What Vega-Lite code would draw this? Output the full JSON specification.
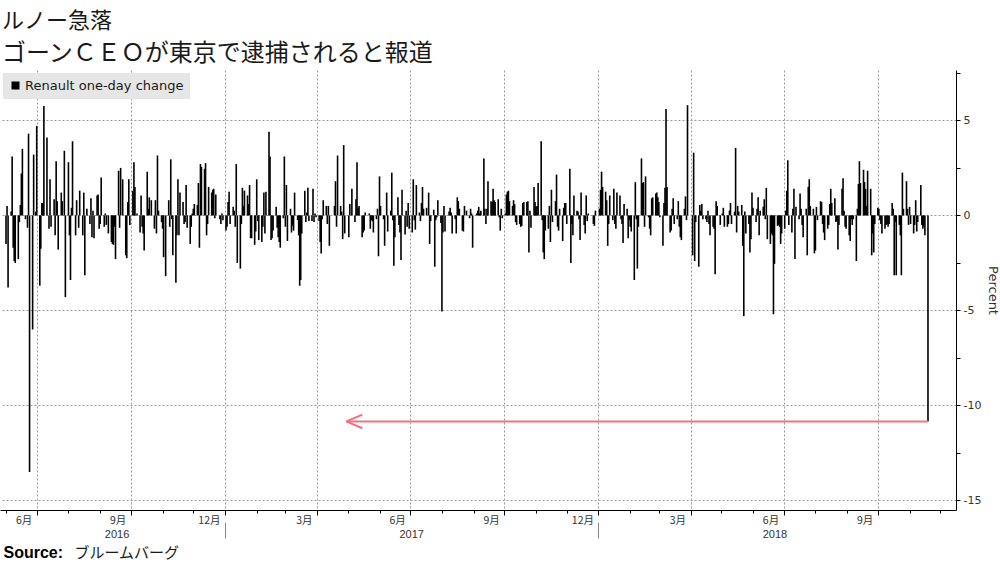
{
"$schema":"https://vega.github.io/schema/vega-lite/v6.json",
"autosize":{"type":"none"},
"padding":{"left":0,"top":70,"right":44,"bottom":52},
"width":956,"height":440,
"background":"#ffffff",
"config":{"view":{"stroke":null}},
"title":{"text":"ルノー急落","subtitle":"ゴーンＣＥＯが東京で逮捕されると報道","anchor":"start","frame":"group","offset":3,"dx":2,"font":"Noto Sans CJK JP","fontSize":22,"fontWeight":"normal","color":"#1a1a1a","subtitleFont":"Noto Sans CJK JP","subtitleFontSize":24,"subtitleColor":"#1a1a1a","subtitlePadding":9,"lineHeight":24,"subtitleLineHeight":26},
"resolve":{"axis":{"x":"independent","y":"independent"}},
"layer":[
{"data":{"values":[
{"d":"2016-06-01","v":-1.5},{"d":"2016-06-02","v":0.5},{"d":"2016-06-03","v":-3.8},{"d":"2016-06-06","v":0.2},{"d":"2016-06-07","v":3.1},{"d":"2016-06-08","v":-1.7},{"d":"2016-06-09","v":-2.4},{"d":"2016-06-10","v":-2.5},{"d":"2016-06-13","v":-2.3},{"d":"2016-06-14","v":-0.35},{"d":"2016-06-15","v":0.55},{"d":"2016-06-16","v":2.2},{"d":"2016-06-17","v":3.5},{"d":"2016-06-20","v":-0.2},{"d":"2016-06-22","v":-0.65},{"d":"2016-06-23","v":4.3},{"d":"2016-06-24","v":-13.5},{"d":"2016-06-27","v":-6.0},{"d":"2016-06-28","v":3.2},{"d":"2016-06-30","v":0.2},{"d":"2016-07-01","v":4.7},{"d":"2016-07-04","v":-3.7},{"d":"2016-07-05","v":-1.75},{"d":"2016-07-06","v":0.65},{"d":"2016-07-07","v":0.65},{"d":"2016-07-08","v":5.75},{"d":"2016-07-11","v":4.1},{"d":"2016-07-13","v":-0.7},{"d":"2016-07-14","v":1.9},{"d":"2016-07-15","v":-0.6},{"d":"2016-07-18","v":0.85},{"d":"2016-07-19","v":-1.05},{"d":"2016-07-20","v":2.85},{"d":"2016-07-21","v":0.75},{"d":"2016-07-22","v":-1.8},{"d":"2016-07-25","v":1.2},{"d":"2016-07-26","v":0.75},{"d":"2016-07-28","v":3.4},{"d":"2016-07-29","v":-4.3},{"d":"2016-08-01","v":2.8},{"d":"2016-08-02","v":-1.05},{"d":"2016-08-03","v":-3.4},{"d":"2016-08-04","v":0.4},{"d":"2016-08-05","v":3.9},{"d":"2016-08-08","v":-1.05},{"d":"2016-08-09","v":0.8},{"d":"2016-08-11","v":-0.65},{"d":"2016-08-12","v":1.3},{"d":"2016-08-15","v":-1.05},{"d":"2016-08-16","v":1.2},{"d":"2016-08-17","v":-3.15},{"d":"2016-08-19","v":0.35},{"d":"2016-08-22","v":-0.45},{"d":"2016-08-23","v":0.9},{"d":"2016-08-24","v":-1.15},{"d":"2016-08-25","v":0.25},
{"d":"2016-08-26","v":-1.2},{"d":"2016-08-29","v":1.05},{"d":"2016-08-30","v":1.1},{"d":"2016-08-31","v":-0.7},{"d":"2016-09-01","v":-0.45},{"d":"2016-09-02","v":2.0},{"d":"2016-09-05","v":-0.6},{"d":"2016-09-06","v":0.1},{"d":"2016-09-07","v":-0.5},{"d":"2016-09-09","v":-0.95},{"d":"2016-09-12","v":-1.4},{"d":"2016-09-13","v":-1.5},{"d":"2016-09-14","v":-1.55},{"d":"2016-09-15","v":-0.6},{"d":"2016-09-16","v":-2.3},{"d":"2016-09-19","v":2.35},{"d":"2016-09-20","v":-0.65},{"d":"2016-09-21","v":2.5},{"d":"2016-09-23","v":1.9},{"d":"2016-09-26","v":-2.1},{"d":"2016-09-27","v":-2.25},{"d":"2016-09-28","v":0.7},{"d":"2016-09-29","v":1.9},{"d":"2016-09-30","v":-0.5},{"d":"2016-10-03","v":1.3},{"d":"2016-10-04","v":2.8},{"d":"2016-10-05","v":1.5},{"d":"2016-10-07","v":0.1},{"d":"2016-10-10","v":-0.9},{"d":"2016-10-11","v":1.05},{"d":"2016-10-12","v":-0.6},{"d":"2016-10-13","v":-0.95},{"d":"2016-10-14","v":-1.85},{"d":"2016-10-17","v":2.3},{"d":"2016-10-18","v":0.35},{"d":"2016-10-19","v":0.95},{"d":"2016-10-21","v":0.8},{"d":"2016-10-24","v":-0.7},{"d":"2016-10-25","v":0.8},{"d":"2016-10-26","v":-0.95},{"d":"2016-10-27","v":3.15},{"d":"2016-10-28","v":0.25},{"d":"2016-10-31","v":-0.35},{"d":"2016-11-01","v":-0.7},{"d":"2016-11-02","v":-2.2},{"d":"2016-11-04","v":-3.2},{"d":"2016-11-07","v":0.8},{"d":"2016-11-08","v":-0.6},{"d":"2016-11-09","v":2.95},{"d":"2016-11-10","v":-0.2},{"d":"2016-11-11","v":-2.1},{"d":"2016-11-14","v":-3.55},{"d":"2016-11-15","v":-1.05},
{"d":"2016-11-16","v":1.9},{"d":"2016-11-17","v":-1.05},{"d":"2016-11-18","v":1.2},{"d":"2016-11-21","v":0.7},{"d":"2016-11-22","v":-0.45},{"d":"2016-11-23","v":-0.35},{"d":"2016-11-24","v":1.6},{"d":"2016-11-25","v":-0.65},{"d":"2016-11-28","v":-1.5},{"d":"2016-11-29","v":-0.6},{"d":"2016-11-30","v":0.1},{"d":"2016-12-01","v":0.35},{"d":"2016-12-02","v":0.6},{"d":"2016-12-05","v":0.55},{"d":"2016-12-06","v":1.7},{"d":"2016-12-07","v":-1.7},{"d":"2016-12-08","v":2.7},{"d":"2016-12-09","v":2.55},{"d":"2016-12-12","v":2.45},{"d":"2016-12-13","v":2.75},{"d":"2016-12-14","v":-1.05},{"d":"2016-12-15","v":-0.45},{"d":"2016-12-16","v":1.5},{"d":"2016-12-19","v":1.2},{"d":"2016-12-20","v":1.35},{"d":"2016-12-21","v":1.4},{"d":"2016-12-22","v":-0.15},{"d":"2016-12-23","v":1.1},{"d":"2016-12-27","v":-0.2},{"d":"2016-12-28","v":-0.45},{"d":"2016-12-29","v":0.1},{"d":"2016-12-30","v":-0.25},{"d":"2017-01-02","v":-0.8},{"d":"2017-01-03","v":-0.6},{"d":"2017-01-04","v":0.7},{"d":"2017-01-05","v":1.25},{"d":"2017-01-06","v":-0.45},{"d":"2017-01-09","v":0.45},{"d":"2017-01-10","v":0.25},{"d":"2017-01-11","v":-0.6},{"d":"2017-01-12","v":2.7},{"d":"2017-01-13","v":-2.5},{"d":"2017-01-16","v":-2.8},{"d":"2017-01-17","v":-0.45},{"d":"2017-01-18","v":1.45},{"d":"2017-01-19","v":0.5},{"d":"2017-01-20","v":1.3},{"d":"2017-01-23","v":1.05},{"d":"2017-01-24","v":0.6},{"d":"2017-01-25","v":1.6},{"d":"2017-01-26","v":-1.2},{"d":"2017-01-27","v":-1.2},{"d":"2017-01-30","v":-1.55},{"d":"2017-01-31","v":-0.85},{"d":"2017-02-01","v":1.9},
{"d":"2017-02-02","v":-0.3},{"d":"2017-02-03","v":-1.3},{"d":"2017-02-06","v":-1.4},{"d":"2017-02-07","v":-0.6},{"d":"2017-02-08","v":1.2},{"d":"2017-02-09","v":-0.95},{"d":"2017-02-10","v":1.25},{"d":"2017-02-13","v":4.4},{"d":"2017-02-14","v":3.1},{"d":"2017-02-15","v":-1.3},{"d":"2017-02-16","v":-1.2},{"d":"2017-02-17","v":-0.8},{"d":"2017-02-20","v":0.45},{"d":"2017-02-21","v":-0.65},{"d":"2017-02-22","v":-1.15},{"d":"2017-02-23","v":-1.4},{"d":"2017-02-24","v":-1.7},{"d":"2017-02-27","v":-0.15},{"d":"2017-02-28","v":3.1},{"d":"2017-03-01","v":-0.6},{"d":"2017-03-02","v":1.6},{"d":"2017-03-03","v":-1.35},{"d":"2017-03-06","v":0.35},{"d":"2017-03-07","v":-0.9},{"d":"2017-03-08","v":-0.55},{"d":"2017-03-09","v":-0.8},{"d":"2017-03-10","v":1.2},{"d":"2017-03-13","v":-0.25},{"d":"2017-03-14","v":-1.05},{"d":"2017-03-15","v":-3.7},{"d":"2017-03-16","v":-3.4},{"d":"2017-03-17","v":-0.95},{"d":"2017-03-20","v":1.3},{"d":"2017-03-21","v":-0.35},{"d":"2017-03-22","v":0.15},{"d":"2017-03-23","v":1.45},{"d":"2017-03-24","v":-0.3},{"d":"2017-03-27","v":-0.3},{"d":"2017-03-28","v":1.4},{"d":"2017-03-29","v":-0.35},{"d":"2017-03-30","v":0.1},{"d":"2017-03-31","v":-0.1},{"d":"2017-04-03","v":-0.3},{"d":"2017-04-04","v":-1.4},{"d":"2017-04-05","v":-2.0},{"d":"2017-04-06","v":-0.2},{"d":"2017-04-07","v":0.8},{"d":"2017-04-10","v":0.5},{"d":"2017-04-11","v":-0.45},{"d":"2017-04-12","v":0.5},{"d":"2017-04-13","v":-1.6},{"d":"2017-04-18","v":0.5},{"d":"2017-04-19","v":1.8},{"d":"2017-04-20","v":-0.6},{"d":"2017-04-21","v":3.15},{"d":"2017-04-24","v":0.5},{"d":"2017-04-25","v":0.2},{"d":"2017-04-26","v":-1.25},
{"d":"2017-04-27","v":3.7},{"d":"2017-04-28","v":-0.95},{"d":"2017-05-02","v":-1.15},{"d":"2017-05-03","v":0.6},{"d":"2017-05-05","v":1.4},{"d":"2017-05-08","v":-0.35},{"d":"2017-05-09","v":0.85},{"d":"2017-05-10","v":2.8},{"d":"2017-05-11","v":0.4},{"d":"2017-05-12","v":0.5},{"d":"2017-05-15","v":-1.15},{"d":"2017-05-16","v":-0.9},{"d":"2017-05-17","v":-0.8},{"d":"2017-05-18","v":0.15},{"d":"2017-05-22","v":0.1},{"d":"2017-05-23","v":-0.7},{"d":"2017-05-24","v":-0.25},{"d":"2017-05-25","v":-0.3},{"d":"2017-05-26","v":-0.9},{"d":"2017-05-29","v":-0.2},{"d":"2017-05-30","v":0.35},{"d":"2017-05-31","v":-2.15},{"d":"2017-06-01","v":2.05},{"d":"2017-06-02","v":0.5},{"d":"2017-06-05","v":-0.2},{"d":"2017-06-06","v":-1.6},{"d":"2017-06-08","v":1.2},{"d":"2017-06-09","v":-0.85},{"d":"2017-06-12","v":0.25},{"d":"2017-06-13","v":2.25},{"d":"2017-06-14","v":-0.25},{"d":"2017-06-15","v":-2.65},{"d":"2017-06-16","v":-1.15},{"d":"2017-06-19","v":0.95},{"d":"2017-06-20","v":-0.5},{"d":"2017-06-21","v":-0.9},{"d":"2017-06-22","v":-2.35},{"d":"2017-06-23","v":1.35},{"d":"2017-06-26","v":-1.0},{"d":"2017-06-27","v":0.25},{"d":"2017-06-28","v":-0.6},{"d":"2017-06-29","v":0.65},{"d":"2017-06-30","v":-0.7},{"d":"2017-07-03","v":-0.9},{"d":"2017-07-04","v":1.9},{"d":"2017-07-05","v":-0.25},{"d":"2017-07-06","v":-0.75},{"d":"2017-07-07","v":1.6},{"d":"2017-07-10","v":0.15},{"d":"2017-07-11","v":-0.3},{"d":"2017-07-12","v":0.65},{"d":"2017-07-13","v":1.5},{"d":"2017-07-14","v":0.35},{"d":"2017-07-17","v":0.4},{"d":"2017-07-19","v":1.2},{"d":"2017-07-20","v":-1.5},
{"d":"2017-07-21","v":-0.3},{"d":"2017-07-24","v":0.3},{"d":"2017-07-25","v":-2.7},{"d":"2017-07-26","v":-0.25},{"d":"2017-07-27","v":-0.1},{"d":"2017-07-28","v":0.8},{"d":"2017-07-31","v":-0.4},{"d":"2017-08-01","v":-5.05},{"d":"2017-08-02","v":-0.9},{"d":"2017-08-03","v":0.5},{"d":"2017-08-04","v":-0.85},{"d":"2017-08-08","v":0.2},{"d":"2017-08-09","v":0.4},{"d":"2017-08-10","v":0.15},{"d":"2017-08-11","v":-0.95},{"d":"2017-08-14","v":-0.2},{"d":"2017-08-15","v":-0.95},{"d":"2017-08-16","v":0.95},{"d":"2017-08-17","v":0.75},{"d":"2017-08-18","v":0.35},{"d":"2017-08-21","v":-0.8},{"d":"2017-08-22","v":-0.85},{"d":"2017-08-23","v":0.5},{"d":"2017-08-25","v":0.25},{"d":"2017-08-28","v":-0.15},{"d":"2017-08-29","v":0.35},{"d":"2017-08-30","v":0.1},{"d":"2017-08-31","v":-1.7},{"d":"2017-09-04","v":0.1},{"d":"2017-09-05","v":0.25},{"d":"2017-09-06","v":0.45},{"d":"2017-09-07","v":0.1},{"d":"2017-09-08","v":0.25},{"d":"2017-09-11","v":3.0},{"d":"2017-09-12","v":0.35},{"d":"2017-09-13","v":-0.45},{"d":"2017-09-14","v":0.35},{"d":"2017-09-15","v":1.8},{"d":"2017-09-18","v":0.75},{"d":"2017-09-19","v":0.7},{"d":"2017-09-20","v":1.4},{"d":"2017-09-21","v":0.8},{"d":"2017-09-22","v":0.7},{"d":"2017-09-25","v":0.85},{"d":"2017-09-26","v":-0.1},{"d":"2017-09-27","v":-0.8},{"d":"2017-09-28","v":0.35},{"d":"2017-09-29","v":-0.15},{"d":"2017-10-02","v":0.1},{"d":"2017-10-03","v":1.1},{"d":"2017-10-04","v":1.25},{"d":"2017-10-05","v":1.3},{"d":"2017-10-06","v":0.75},{"d":"2017-10-09","v":0.5},{"d":"2017-10-10","v":0.8},{"d":"2017-10-11","v":0.6},
{"d":"2017-10-12","v":-0.35},{"d":"2017-10-13","v":-0.5},{"d":"2017-10-16","v":-0.45},{"d":"2017-10-17","v":-0.6},{"d":"2017-10-18","v":-0.55},{"d":"2017-10-19","v":0.65},{"d":"2017-10-20","v":0.7},{"d":"2017-10-23","v":0.7},{"d":"2017-10-24","v":0.75},{"d":"2017-10-25","v":-1.95},{"d":"2017-10-26","v":0.25},{"d":"2017-10-27","v":-0.65},{"d":"2017-10-30","v":1.5},{"d":"2017-10-31","v":0.7},{"d":"2017-11-01","v":0.45},{"d":"2017-11-02","v":0.5},{"d":"2017-11-03","v":1.7},{"d":"2017-11-06","v":3.9},{"d":"2017-11-07","v":-0.25},{"d":"2017-11-08","v":-1.95},{"d":"2017-11-09","v":-2.3},{"d":"2017-11-10","v":-0.8},{"d":"2017-11-13","v":-0.7},{"d":"2017-11-14","v":0.5},{"d":"2017-11-15","v":-1.4},{"d":"2017-11-16","v":1.35},{"d":"2017-11-17","v":-0.35},{"d":"2017-11-20","v":0.75},{"d":"2017-11-21","v":2.15},{"d":"2017-11-22","v":-0.6},{"d":"2017-11-23","v":-0.8},{"d":"2017-11-24","v":0.35},{"d":"2017-11-27","v":-1.35},{"d":"2017-11-28","v":0.4},{"d":"2017-11-29","v":0.65},{"d":"2017-11-30","v":0.65},{"d":"2017-12-01","v":-0.45},{"d":"2017-12-04","v":2.45},{"d":"2017-12-05","v":-2.5},{"d":"2017-12-06","v":-0.45},{"d":"2017-12-07","v":-1.05},{"d":"2017-12-08","v":1.05},{"d":"2017-12-11","v":0.25},{"d":"2017-12-12","v":0.2},{"d":"2017-12-13","v":-0.2},{"d":"2017-12-14","v":-1.3},{"d":"2017-12-15","v":1.2},{"d":"2017-12-18","v":-0.5},{"d":"2017-12-19","v":-0.95},{"d":"2017-12-20","v":1.05},{"d":"2017-12-21","v":-0.3},{"d":"2017-12-22","v":0.1},{"d":"2017-12-27","v":-0.45},{"d":"2017-12-28","v":-0.55},{"d":"2017-12-29","v":0.25},
{"d":"2018-01-02","v":0.35},{"d":"2018-01-03","v":1.35},{"d":"2018-01-04","v":2.3},{"d":"2018-01-05","v":1.5},{"d":"2018-01-08","v":1.25},{"d":"2018-01-09","v":0.8},{"d":"2018-01-10","v":-1.6},{"d":"2018-01-11","v":-0.45},{"d":"2018-01-12","v":1.05},{"d":"2018-01-15","v":-0.25},{"d":"2018-01-16","v":1.4},{"d":"2018-01-17","v":-0.45},{"d":"2018-01-18","v":-0.7},{"d":"2018-01-19","v":1.2},{"d":"2018-01-22","v":1.05},{"d":"2018-01-23","v":-0.2},{"d":"2018-01-24","v":-0.45},{"d":"2018-01-25","v":-1.45},{"d":"2018-01-26","v":0.6},{"d":"2018-01-29","v":0.35},{"d":"2018-01-30","v":-1.2},{"d":"2018-01-31","v":-0.25},{"d":"2018-02-01","v":-0.6},{"d":"2018-02-02","v":-0.85},{"d":"2018-02-05","v":-3.4},{"d":"2018-02-06","v":1.75},{"d":"2018-02-07","v":-0.2},{"d":"2018-02-08","v":-2.8},{"d":"2018-02-09","v":-0.6},{"d":"2018-02-12","v":3.0},{"d":"2018-02-13","v":1.7},{"d":"2018-02-14","v":1.75},{"d":"2018-02-15","v":-0.6},{"d":"2018-02-16","v":2.05},{"d":"2018-02-19","v":-0.1},{"d":"2018-02-20","v":-0.7},{"d":"2018-02-21","v":-1.05},{"d":"2018-02-22","v":0.9},{"d":"2018-02-23","v":0.95},{"d":"2018-02-26","v":1.15},{"d":"2018-02-27","v":1.2},{"d":"2018-02-28","v":0.95},{"d":"2018-03-01","v":0.7},{"d":"2018-03-02","v":-0.1},{"d":"2018-03-05","v":-1.6},{"d":"2018-03-06","v":0.65},{"d":"2018-03-07","v":1.45},{"d":"2018-03-08","v":5.6},{"d":"2018-03-09","v":1.5},{"d":"2018-03-12","v":-0.9},{"d":"2018-03-13","v":-0.8},{"d":"2018-03-14","v":0.35},{"d":"2018-03-15","v":0.9},{"d":"2018-03-16","v":-0.45},{"d":"2018-03-19","v":-0.2},{"d":"2018-03-20","v":0.75},{"d":"2018-03-21","v":-0.6},{"d":"2018-03-22","v":-1.15},{"d":"2018-03-23","v":-1.3},
{"d":"2018-03-26","v":0.35},{"d":"2018-03-27","v":1.0},{"d":"2018-03-28","v":-0.25},{"d":"2018-03-29","v":5.8},{"d":"2018-04-03","v":-2.1},{"d":"2018-04-04","v":3.3},{"d":"2018-04-05","v":-2.4},{"d":"2018-04-06","v":-0.35},{"d":"2018-04-09","v":-2.7},{"d":"2018-04-10","v":0.55},{"d":"2018-04-11","v":0.25},{"d":"2018-04-12","v":0.6},{"d":"2018-04-13","v":-0.2},{"d":"2018-04-16","v":-0.2},{"d":"2018-04-17","v":-0.35},{"d":"2018-04-18","v":0.25},{"d":"2018-04-19","v":-0.45},{"d":"2018-04-20","v":-1.05},{"d":"2018-04-23","v":-0.6},{"d":"2018-04-24","v":-0.7},{"d":"2018-04-25","v":-3.1},{"d":"2018-04-26","v":0.75},{"d":"2018-04-27","v":0.5},{"d":"2018-04-30","v":-0.5},{"d":"2018-05-02","v":0.1},{"d":"2018-05-03","v":0.4},{"d":"2018-05-04","v":-0.6},{"d":"2018-05-07","v":-0.6},{"d":"2018-05-08","v":-0.45},{"d":"2018-05-09","v":0.25},{"d":"2018-05-10","v":0.65},{"d":"2018-05-11","v":-0.45},{"d":"2018-05-14","v":0.2},{"d":"2018-05-15","v":3.55},{"d":"2018-05-16","v":-0.9},{"d":"2018-05-17","v":0.5},{"d":"2018-05-18","v":0.2},{"d":"2018-05-21","v":0.55},{"d":"2018-05-22","v":-1.6},{"d":"2018-05-23","v":-5.3},{"d":"2018-05-24","v":0.2},{"d":"2018-05-25","v":-0.95},{"d":"2018-05-28","v":-0.45},{"d":"2018-05-29","v":-1.95},{"d":"2018-05-30","v":-1.25},{"d":"2018-05-31","v":1.2},{"d":"2018-06-01","v":0.4},{"d":"2018-06-04","v":-0.35},{"d":"2018-06-05","v":0.35},{"d":"2018-06-06","v":0.95},{"d":"2018-06-07","v":-1.05},{"d":"2018-06-08","v":0.25},{"d":"2018-06-11","v":0.45},{"d":"2018-06-12","v":0.85},{"d":"2018-06-13","v":-0.2},{"d":"2018-06-14","v":1.45},
{"d":"2018-06-15","v":-1.25},{"d":"2018-06-18","v":-1.5},{"d":"2018-06-19","v":-0.95},{"d":"2018-06-20","v":-1.05},{"d":"2018-06-21","v":-5.2},{"d":"2018-06-22","v":-2.55},{"d":"2018-06-25","v":-0.55},{"d":"2018-06-26","v":-0.5},{"d":"2018-06-27","v":-0.6},{"d":"2018-06-28","v":-1.5},{"d":"2018-06-29","v":-0.95},{"d":"2018-07-02","v":-0.7},{"d":"2018-07-03","v":0.25},{"d":"2018-07-04","v":1.3},{"d":"2018-07-05","v":2.9},{"d":"2018-07-06","v":-0.5},{"d":"2018-07-09","v":-0.9},{"d":"2018-07-10","v":0.35},{"d":"2018-07-11","v":1.4},{"d":"2018-07-12","v":-2.3},{"d":"2018-07-13","v":0.45},{"d":"2018-07-16","v":-0.2},{"d":"2018-07-17","v":1.15},{"d":"2018-07-18","v":0.35},{"d":"2018-07-19","v":-0.5},{"d":"2018-07-20","v":-1.15},{"d":"2018-07-23","v":0.35},{"d":"2018-07-24","v":-2.1},{"d":"2018-07-25","v":1.5},{"d":"2018-07-26","v":1.9},{"d":"2018-07-27","v":0.5},{"d":"2018-07-30","v":0.35},{"d":"2018-07-31","v":-2.0},{"d":"2018-08-01","v":-1.85},{"d":"2018-08-02","v":0.45},{"d":"2018-08-03","v":-0.25},{"d":"2018-08-06","v":0.75},{"d":"2018-08-07","v":0.7},{"d":"2018-08-08","v":-0.45},{"d":"2018-08-09","v":-0.9},{"d":"2018-08-10","v":-1.3},{"d":"2018-08-13","v":-0.7},{"d":"2018-08-14","v":-0.5},{"d":"2018-08-15","v":0.6},{"d":"2018-08-16","v":1.4},{"d":"2018-08-17","v":0.65},{"d":"2018-08-20","v":0.9},{"d":"2018-08-21","v":-0.35},{"d":"2018-08-22","v":-0.3},{"d":"2018-08-23","v":-1.8},{"d":"2018-08-24","v":-0.5},{"d":"2018-08-27","v":1.4},{"d":"2018-08-28","v":1.95},{"d":"2018-08-29","v":0.25},{"d":"2018-08-30","v":-0.6},{"d":"2018-08-31","v":-0.7},{"d":"2018-09-03","v":-1.05},{"d":"2018-09-04","v":-1.35},
{"d":"2018-09-05","v":-0.2},{"d":"2018-09-06","v":-0.5},{"d":"2018-09-07","v":-0.2},{"d":"2018-09-10","v":-2.4},{"d":"2018-09-11","v":0.35},{"d":"2018-09-12","v":1.65},{"d":"2018-09-13","v":2.85},{"d":"2018-09-14","v":1.7},{"d":"2018-09-17","v":2.4},{"d":"2018-09-18","v":1.75},{"d":"2018-09-19","v":1.4},{"d":"2018-09-20","v":0.5},{"d":"2018-09-21","v":2.35},{"d":"2018-09-24","v":1.4},{"d":"2018-09-25","v":-2.1},{"d":"2018-09-26","v":-0.95},{"d":"2018-09-27","v":-1.95},{"d":"2018-09-28","v":-0.45},{"d":"2018-10-01","v":0.4},{"d":"2018-10-02","v":0.35},{"d":"2018-10-03","v":-0.25},{"d":"2018-10-04","v":-0.45},{"d":"2018-10-05","v":-0.95},{"d":"2018-10-08","v":-0.7},{"d":"2018-10-09","v":-0.5},{"d":"2018-10-10","v":-0.45},{"d":"2018-10-11","v":-0.6},{"d":"2018-10-12","v":-0.45},{"d":"2018-10-15","v":0.65},{"d":"2018-10-16","v":0.35},{"d":"2018-10-17","v":-3.15},{"d":"2018-10-18","v":-0.35},{"d":"2018-10-19","v":-3.15},{"d":"2018-10-22","v":-0.5},{"d":"2018-10-23","v":-1.05},{"d":"2018-10-24","v":-3.15},{"d":"2018-10-25","v":2.25},{"d":"2018-10-26","v":0.35},{"d":"2018-10-29","v":1.8},{"d":"2018-10-30","v":0.35},{"d":"2018-10-31","v":-0.5},{"d":"2018-11-01","v":0.45},{"d":"2018-11-02","v":-0.45},{"d":"2018-11-05","v":-0.95},{"d":"2018-11-06","v":-0.5},{"d":"2018-11-07","v":0.8},{"d":"2018-11-08","v":-0.85},{"d":"2018-11-09","v":-0.35},{"d":"2018-11-12","v":1.6},{"d":"2018-11-13","v":-0.5},{"d":"2018-11-14","v":-0.7},{"d":"2018-11-15","v":-0.6},{"d":"2018-11-16","v":-1.05},{"d":"2018-11-19","v":-10.84}
]},
"mark":{"type":"bar","size":1.6},
"encoding":{
"x":{"field":"d","type":"temporal","scale":{"type":"utc","domain":[{"year":2016,"month":5,"date":31,"utc":true},{"year":2018,"month":12,"date":11,"hours":12,"utc":true}]},
"axis":{"title":null,"orient":"bottom","values":[{"year":2016,"month":6,"date":1,"utc":true},{"year":2016,"month":7,"date":1,"utc":true},{"year":2016,"month":8,"date":1,"utc":true},{"year":2016,"month":9,"date":1,"utc":true},{"year":2016,"month":10,"date":1,"utc":true},{"year":2016,"month":11,"date":1,"utc":true},{"year":2016,"month":12,"date":1,"utc":true},{"year":2017,"month":1,"date":1,"utc":true},{"year":2017,"month":2,"date":1,"utc":true},{"year":2017,"month":3,"date":1,"utc":true},{"year":2017,"month":4,"date":1,"utc":true},{"year":2017,"month":5,"date":1,"utc":true},{"year":2017,"month":6,"date":1,"utc":true},{"year":2017,"month":7,"date":1,"utc":true},{"year":2017,"month":8,"date":1,"utc":true},{"year":2017,"month":9,"date":1,"utc":true},{"year":2017,"month":10,"date":1,"utc":true},{"year":2017,"month":11,"date":1,"utc":true},{"year":2017,"month":12,"date":1,"utc":true},{"year":2018,"month":1,"date":1,"utc":true},{"year":2018,"month":2,"date":1,"utc":true},{"year":2018,"month":3,"date":1,"utc":true},{"year":2018,"month":4,"date":1,"utc":true},{"year":2018,"month":5,"date":1,"utc":true},{"year":2018,"month":6,"date":1,"utc":true},{"year":2018,"month":7,"date":1,"utc":true},{"year":2018,"month":8,"date":1,"utc":true},{"year":2018,"month":9,"date":1,"utc":true},{"year":2018,"month":10,"date":1,"utc":true},{"year":2018,"month":11,"date":1,"utc":true},{"year":2018,"month":12,"date":1,"utc":true}],
"domain":true,"domainColor":"#000000","domainWidth":1,"ticks":true,"tickColor":"#000000","tickWidth":1,
"tickSize":{"condition":{"test":"utcmonth(datum.value) % 3 == 0","value":5},"value":3},
"grid":true,"gridColor":"#9a9a9a","gridDash":[2,2],"gridWidth":1,
"gridOpacity":{"condition":{"test":"utcmonth(datum.value) % 3 == 0","value":1},"value":0},
"labelExpr":"utcmonth(datum.value) % 3 == 0 ? (utcmonth(datum.value) == 0 ? 12 : utcmonth(datum.value)) + '月' : ''",
"labelAlign":"right","labelOffset":-5,"labelPadding":0,"labelFont":"Noto Sans CJK JP","labelFontSize":10.5,"labelColor":"#333333","labelOverlap":false,"labelFlush":false}},
"y":{"field":"v","type":"quantitative","scale":{"domain":[-15.5,7.65],"nice":false,"zero":false},
"axis":{"orient":"right","values":[-15,-12.5,-10,-7.5,-5,-2.5,0,2.5,5,7.5],
"labelExpr":"datum.value % 5 == 0 ? '' + datum.value : ''",
"grid":true,"gridColor":"#9a9a9a","gridDash":[2,2],"gridWidth":1,
"gridOpacity":{"condition":{"test":"datum.value % 5 == 0","value":1},"value":0},
"domain":true,"domainColor":"#000000","ticks":true,"tickColor":"#000000","tickSize":4,
"labelPadding":3,"labelFont":"DejaVu Sans","labelFontSize":11,"labelColor":"#333333",
"title":"Percent","titleAngle":90,"titleFont":"DejaVu Sans","titleFontWeight":"normal","titleFontSize":13,"titleColor":"#333333","titlePadding":5}},
"y2":{"datum":0},
"color":{"datum":"Renault one-day change","type":"nominal","scale":{"range":["#000000"]},
"legend":{"orient":"top-left","offset":3,"title":null,"fillColor":"#e6e6e6","padding":6,"symbolType":"square","symbolSize":64,"symbolFillColor":"#000000","symbolStrokeWidth":0,"labelFont":"DejaVu Sans","labelFontSize":13,"labelColor":"#1a1a1a","labelOffset":3}}
}},
{"data":{"values":[{"a":"2017-04-29T15:00:00Z","b":"2018-11-19","y":-10.84}]},
"mark":{"type":"rule","color":"#f2727d","strokeWidth":2},
"encoding":{
"x":{"field":"a","type":"temporal","scale":{"type":"utc","domain":[{"year":2016,"month":5,"date":31,"utc":true},{"year":2018,"month":12,"date":11,"hours":12,"utc":true}]},
"axis":{"orient":"bottom","values":[{"year":2016,"month":9,"date":17,"utc":true},{"year":2017,"month":7,"date":2,"utc":true},{"year":2018,"month":6,"date":22,"utc":true}],
"labelExpr":"'' + utcyear(datum.value)","ticks":false,"domain":false,"grid":false,"labelPadding":18,"labelFont":"Liberation Sans","labelFontSize":11,"labelColor":"#333333","labelAlign":"center","labelOverlap":false,
"title":"Source:","titleFont":"Liberation Sans","titleFontWeight":"bold","titleFontSize":16,"titleColor":"#000000","titleX":3,"titleY":47,"titleAlign":"left","titleAnchor":null,"titleBaseline":"alphabetic","titleAngle":0}},
"x2":{"field":"b"},
"y":{"field":"y","type":"quantitative","scale":{"domain":[-15.5,7.65],"nice":false,"zero":false},"axis":null}
}},
{"data":{"values":[{"a":"2017-05-07T10:00:00Z","y":-10.84}]},
"mark":{"type":"point","shape":"M-1,0L1,-0.85M-1,0L1,0.85","filled":false,"stroke":"#f2727d","strokeWidth":2,"size":256,"opacity":1},
"encoding":{
"x":{"field":"a","type":"temporal","scale":{"type":"utc","domain":[{"year":2016,"month":5,"date":31,"utc":true},{"year":2018,"month":12,"date":11,"hours":12,"utc":true}]},
"axis":{"orient":"bottom","values":[{"year":2017,"month":1,"date":1,"utc":true},{"year":2018,"month":1,"date":1,"utc":true}],
"labels":false,"domain":false,"grid":false,"ticks":true,"tickSize":28,"tickDash":[0,12,16],"tickColor":"#888888","tickWidth":1,
"title":"ブルームバーグ","titleFont":"Noto Sans CJK JP","titleFontWeight":"normal","titleFontSize":15,"titleColor":"#1a1a1a","titleX":74,"titleY":47,"titleAlign":"left","titleAnchor":null,"titleBaseline":"alphabetic","titleAngle":0}},
"y":{"field":"y","type":"quantitative","scale":{"domain":[-15.5,7.65],"nice":false,"zero":false},"axis":null}
}}
]
}
